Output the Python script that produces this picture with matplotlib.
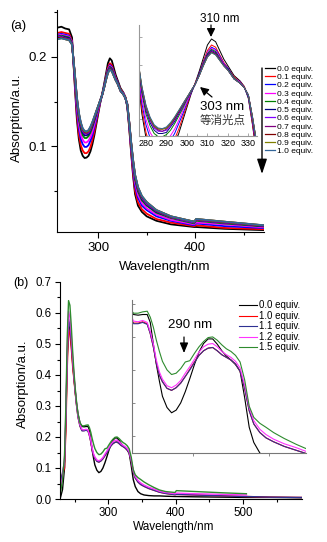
import numpy as np
import matplotlib
matplotlib.use('Agg')
import matplotlib.pyplot as plt
from matplotlib.patches import FancyArrowPatch
from matplotlib.ticker import MultipleLocator, FormatStrFormatter, NullFormatter

plt.rcParams['font.family'] = ['Liberation Sans', 'Noto Sans CJK SC']

# ---------- panel (a): titration 0.0 - 1.0 equiv ----------
wl_a = [258, 262, 266, 270, 273, 276, 278, 280, 282, 284, 286, 288, 290, 292, 294,
        296, 298, 300, 302, 304, 306, 308, 310, 312, 314, 316, 318, 320, 323, 326,
        328, 330, 332, 334, 336, 338, 341, 345, 350, 360, 375, 399, 401, 430, 471]

a_00 = [.233, .234, .232, .231, .222, .165, .130, .108, .095, .089, .0865, .087, .089, .094, .102,
        .112, .124, .136, .148, .158, .169, .181, .193, .1985, .196, .188, .180, .174, .165, .160,
        .155, .144, .120, .092, .066, .046, .033, .026, .021, .016, .012, .009, .009, .007, .0055]
a_01 = [.227, .228, .227, .226, .218, .168, .135, .113, .101, .095, .092, .092, .094, .099, .107,
        .116, .127, .138, .149, .158, .167, .178, .188, .193, .191, .184, .177, .172, .164, .159,
        .155, .145, .121, .094, .069, .050, .037, .029, .024, .018, .014, .010, .011, .008, .0065]
a_02 = [.225, .226, .225, .224, .217, .171, .140, .120, .108, .102, .099, .099, .101, .106, .112,
        .121, .130, .140, .149, .157, .167, .177, .186, .191, .189, .183, .176, .172, .163, .159,
        .154, .145, .123, .097, .073, .055, .042, .033, .028, .021, .016, .011, .013, .010, .0078]
a_03 = [.224, .225, .224, .223, .217, .174, .144, .125, .113, .107, .104, .104, .106, .110, .116,
        .124, .133, .141, .150, .157, .166, .176, .186, .190, .188, .182, .176, .171, .163, .159,
        .154, .146, .124, .099, .076, .059, .045, .036, .030, .023, .017, .012, .014, .012, .0086]
a_04 = [.223, .224, .223, .222, .216, .176, .149, .130, .119, .112, .109, .109, .111, .115, .121,
        .128, .135, .143, .150, .157, .166, .176, .185, .189, .187, .181, .175, .171, .163, .158,
        .154, .146, .125, .101, .079, .062, .049, .039, .033, .025, .019, .013, .016, .013, .0096]
a_05 = [.222, .223, .222, .221, .215, .178, .151, .133, .122, .115, .112, .112, .113, .118, .123,
        .130, .137, .144, .151, .157, .166, .175, .184, .188, .186, .180, .175, .171, .162, .158,
        .154, .147, .126, .102, .081, .065, .051, .041, .034, .026, .020, .014, .017, .014, .010]
a_06 = [.222, .223, .221, .220, .215, .179, .153, .135, .124, .117, .114, .114, .115, .119, .125,
        .131, .138, .144, .151, .157, .165, .175, .183, .1875, .185, .180, .175, .170, .162, .158,
        .154, .147, .126, .103, .082, .066, .052, .042, .035, .027, .020, .014, .017, .014, .0105]
a_07 = [.221, .222, .221, .220, .215, .179, .153, .136, .125, .118, .115, .114, .116, .120, .125,
        .132, .138, .144, .151, .157, .165, .175, .183, .187, .185, .180, .174, .170, .162, .158,
        .154, .147, .127, .103, .083, .067, .053, .043, .036, .027, .020, .015, .017, .014, .0106]
a_08 = [.221, .222, .220, .219, .214, .180, .154, .137, .126, .119, .116, .116, .117, .121, .126,
        .132, .139, .145, .151, .157, .165, .174, .182, .1865, .1845, .179, .174, .170, .162, .158,
        .154, .147, .127, .104, .084, .067, .053, .043, .037, .028, .021, .015, .018, .015, .0108]
a_09 = [.220, .221, .220, .219, .214, .180, .155, .137, .126, .119, .1165, .116, .117, .121, .127,
        .133, .139, .145, .151, .157, .165, .174, .182, .186, .184, .179, .174, .170, .162, .158,
        .154, .147, .127, .104, .084, .068, .054, .044, .037, .028, .021, .015, .018, .015, .0109]
a_10 = [.220, .221, .220, .219, .214, .180, .155, .138, .127, .120, .117, .1165, .118, .122, .127,
        .133, .139, .145, .151, .157, .165, .174, .182, .186, .184, .179, .174, .170, .162, .158,
        .154, .147, .127, .104, .084, .068, .054, .044, .037, .028, .021, .015, .018, .015, .011]

series_a = [a_00, a_01, a_02, a_03, a_04, a_05, a_06, a_07, a_08, a_09, a_10]
labels_a = ['0.0 equiv.', '0.1 equiv.', '0.2 equiv.', '0.3 equiv.', '0.4 equiv.', '0.5 equiv.',
            '0.6 equiv.', '0.7 equiv.', '0.8 equiv.', '0.9 equiv.', '1.0 equiv.']
colors_a = ['#000000', '#ff0000', '#0000ff', '#ff00ff', '#008000', '#000080',
            '#8000ff', '#800080', '#800000', '#808000', '#336699']

# ---------- panel (b): 0.0 - 1.5 equiv ----------
wl_b = [229, 232, 235, 237, 239, 241, 243, 245, 247, 249, 251, 253, 255, 258, 261,
        264, 267, 270, 272, 274, 276, 278, 280, 283, 286, 289, 292, 295, 298, 301,
        304, 307, 310, 313, 316, 319, 322, 325, 328, 331, 334, 337, 340, 344, 348,
        353, 360, 368, 376, 385, 399, 401, 430, 470, 505, 540, 587]
nan = np.nan
b_00 = [.005, .03, .10, .25, .45, .565, .545, .50, .44, .39, .345, .305, .275, .245, .234,
        .233, .234, .234, .222, .19, .158, .133, .110, .093, .085, .089, .100, .117, .137, .158,
        .177, .190, .197, .197, .189, .179, .171, .165, .158, .148, .108, .063, .040, .024, .017,
        .013, .011, .010, .010, .009, .008, .008, .007, .006, .005, .005, .004]
b_10 = [.06, .08, .10, .22, .42, .55, .53, .49, .43, .385, .34, .30, .265, .235, .221,
        .221, .223, .220, .205, .185, .16, .142, .132, .122, .119, .123, .130, .140, .151, .162,
        .172, .179, .183, .184, .179, .173, .169, .165, .159, .148, .122, .088, .068, .055, .047,
        .041, .034, .028, .022, .018, .014, .015, .013, .010, .008, .006, .005]
b_11 = [.05, .085, .12, .26, .46, .58, .56, .51, .45, .395, .345, .30, .265, .235, .220,
        .220, .222, .219, .205, .185, .16, .142, .132, .122, .119, .123, .130, .140, .150, .161,
        .172, .179, .183, .184, .179, .173, .169, .165, .159, .148, .122, .088, .068, .055, .047,
        .041, .034, .028, .022, .018, .014, .015, .013, .010, .008, .006, .005]
b_12 = [.03, .07, .13, .28, .48, .605, .585, .53, .46, .40, .35, .305, .27, .24, .224,
        .223, .225, .222, .208, .19, .165, .147, .136, .126, .123, .127, .134, .145, .155, .166,
        .177, .185, .189, .190, .185, .178, .173, .169, .163, .153, .127, .093, .073, .060, .052,
        .045, .038, .032, .025, .021, .017, .019, .017, .015, .013, nan, nan]
b_15 = [.02, .06, .14, .30, .52, .64, .625, .56, .48, .41, .355, .31, .275, .245, .236,
        .236, .238, .239, .230, .215, .195, .178, .163, .150, .143, .145, .152, .162, .164, .175,
        .185, .193, .199, .200, .195, .188, .182, .178, .172, .162, .135, .095, .078, .069, .063,
        .055, .046, .037, .029, .024, .021, .027, .024, .020, .017, nan, nan]

series_b = [b_00, b_10, b_11, b_12, b_15]
labels_b = ['0.0 equiv.', '1.0 equiv.', '1.1 equiv.', '1.2 equiv.', '1.5 equiv.']
colors_b = ['#000000', '#ff0000', '#2e3192', '#ff33ff', '#2e8b2e']

W, H = 327, 542
fig = plt.figure(figsize=(W / 100, H / 100), dpi=100)


def px_axes(l, t, r, b):
    return fig.add_axes([l / W, 1 - b / H, (r - l) / W, (b - t) / H])


def fx(x):
    return x / W


def fy(y):
    return 1 - y / H


def arrow(x0, y0, x1, y1, hl, hw, ms=10, lw=0.9):
    fig.add_artist(FancyArrowPatch((fx(x0), fy(y0)), (fx(x1), fy(y1)),
                                   transform=fig.transFigure, shrinkA=0, shrinkB=0,
                                   arrowstyle='-|>,head_length=%g,head_width=%g' % (hl, hw),
                                   mutation_scale=ms, lw=lw, color='black'))


def clean(ax, col='black'):
    ax.spines['top'].set_visible(False)
    ax.spines['right'].set_visible(False)
    for s in ('left', 'bottom'):
        ax.spines[s].set_color(col)
        ax.spines[s].set_linewidth(0.8)


# main (a)
ax_a = px_axes(57, 10, 264, 232)
lines_a = []
for y, c in zip(series_a, colors_a):
    ln, = ax_a.plot(wl_a, y, color=c, lw=1.3)
    lines_a.append(ln)
ax_a.set_xlim(257.5, 471)
ax_a.set_ylim(0.0034, 0.2528)
clean(ax_a)
ax_a.xaxis.set_major_locator(MultipleLocator(100))
ax_a.xaxis.set_minor_locator(MultipleLocator(50))
ax_a.yaxis.set_major_locator(MultipleLocator(0.1))
ax_a.yaxis.set_minor_locator(MultipleLocator(0.05))
ax_a.tick_params(which='major', direction='out', length=4, width=0.8, labelsize=9.5, pad=3)
ax_a.tick_params(which='minor', direction='out', length=2.5, width=0.8)

fig.text(fx(165), fy(267), 'Wavelength/nm', ha='center', va='center', fontsize=9.5)
fig.text(fx(17), fy(118), 'Absorption/a.u.', ha='center', va='center', rotation=90, fontsize=9.5)
fig.text(fx(18), fy(26), '(a)', ha='center', va='center', fontsize=9.5)

# inset (a)
ins_a = px_axes(139, 25, 257, 136)
ins_a.set_facecolor('none')
for y, c in zip(series_a, colors_a):
    ins_a.plot(wl_a, y, color=c, lw=0.7)
ins_a.set_xlim(276.6, 334.2)
ins_a.set_ylim(0.1097, 0.2113)
clean(ins_a, '#999999')
ins_a.set_xticks([280, 290, 300, 310, 320, 330])
ins_a.xaxis.set_minor_locator(MultipleLocator(5))
ins_a.yaxis.set_major_locator(MultipleLocator(0.025))
ins_a.yaxis.set_major_formatter(NullFormatter())
ins_a.tick_params(which='both', direction='in', length=2, width=0.6, color='#999999',
                  labelsize=6.5, pad=2)
ins_a.tick_params(which='minor', length=1.2)

fig.text(fx(220), fy(19), '310 nm', ha='center', va='center', fontsize=8.5)
arrow(211, 25, 211, 37, 0.5, 0.25)
fig.text(fx(222.5), fy(107), '303 nm', ha='center', va='center', fontsize=9.5)
fig.text(fx(223), fy(120.5), '等消光点', ha='center', va='center', fontsize=8.3,
         color='#333333', family=['Noto Sans CJK SC'])
arrow(212, 97, 200, 87, 0.5, 0.25)

leg_a = fig.legend(lines_a, labels_a, loc='upper left', bbox_to_anchor=(fx(265), fy(65)),
                   bbox_transform=fig.transFigure, frameon=False, fontsize=6, handlelength=1.2,
                   handletextpad=0.25, labelspacing=0.05, borderpad=0, borderaxespad=0)
for h in leg_a.legend_handles:
    h.set_linewidth(0.9)
arrow(262, 68, 262, 174, 0.9, 0.3, lw=1.0)

# main (b)
ax_b = px_axes(60, 282, 302, 499)
for y, c in zip(series_b, colors_b):
    ax_b.plot(wl_b, y, color=c, lw=1.0)
ax_b.set_xlim(228.3, 587.5)
ax_b.set_ylim(0, 0.7)
clean(ax_b)
ax_b.xaxis.set_major_locator(MultipleLocator(100))
ax_b.xaxis.set_minor_locator(MultipleLocator(50))
ax_b.yaxis.set_major_locator(MultipleLocator(0.1))
ax_b.yaxis.set_minor_locator(MultipleLocator(0.05))
ax_b.yaxis.set_major_formatter(FormatStrFormatter('%.1f'))
ax_b.tick_params(which='major', direction='out', length=3.5, width=0.8, labelsize=8.3, pad=2.5)
ax_b.tick_params(which='minor', direction='out', length=2, width=0.8)

fig.text(fx(174), fy(527), 'Wavelength/nm', ha='center', va='center', fontsize=8.5)
fig.text(fx(23), fy(384), 'Absorption/a.u.', ha='center', va='center', rotation=90, fontsize=9.5)
fig.text(fx(21), fy(283), '(b)', ha='center', va='center', fontsize=9)

# inset (b)
ins_b = px_axes(132, 300, 306, 453)
ins_b.set_facecolor('none')
lines_b = []
for y, c in zip(series_b, colors_b):
    ln, = ins_b.plot(wl_b, y, color=c, lw=0.8)
    lines_b.append(ln)
ins_b.set_xlim(260, 374.3)
ins_b.set_ylim(0.024, 0.256)
clean(ins_b, '#777777')
ins_b.set_xticks([300, 350])
ins_b.xaxis.set_major_formatter(NullFormatter())
ins_b.yaxis.set_major_locator(MultipleLocator(0.05))
ins_b.yaxis.set_major_formatter(NullFormatter())
ins_b.tick_params(axis='x', direction='out', length=2, width=0.6, color='#777777')
ins_b.tick_params(axis='y', direction='in', length=2, width=0.6, color='#777777')

fig.legend(lines_b, labels_b, loc='upper left', bbox_to_anchor=(fx(239), fy(300.5)),
           bbox_transform=fig.transFigure, frameon=False, fontsize=7, handlelength=1.9,
           handletextpad=0.2, labelspacing=0.05, borderpad=0, borderaxespad=0)
fig.text(fx(190), fy(324.5), '290 nm', ha='center', va='center', fontsize=9.5)
arrow(184, 337, 184, 353, 0.6, 0.25)

fig.savefig('out.png', dpi=100)
